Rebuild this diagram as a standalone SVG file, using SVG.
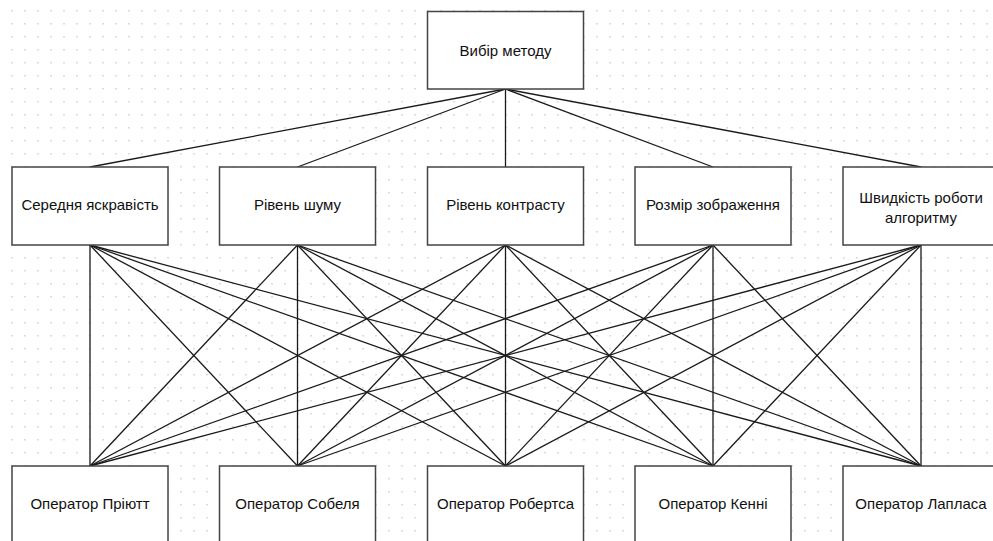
<svg xmlns="http://www.w3.org/2000/svg" width="993" height="541" viewBox="0 0 993 541">
<defs>
<pattern id="grid" x="11" y="10" width="13" height="13" patternUnits="userSpaceOnUse">
<rect x="0" y="0" width="2" height="1.5" fill="#dcdcdc"/>
</pattern>
<style>
.box{fill:#fff;stroke:#444;stroke-width:1.5}
.lbl{font-family:"Liberation Sans",Arial,sans-serif;font-size:15px;fill:#111;text-anchor:middle}
.ln{stroke:#1a1a1a;stroke-width:1.3;fill:none}
</style>
</defs>
<rect width="993" height="541" fill="#fff"/>
<rect width="993" height="541" fill="url(#grid)"/>
<g id="connectors">
<line class="ln" x1="505.5" y1="89" x2="90" y2="167"/>
<line class="ln" x1="505.5" y1="89" x2="297.5" y2="167"/>
<line class="ln" x1="505.5" y1="89" x2="505.5" y2="167"/>
<line class="ln" x1="505.5" y1="89" x2="713" y2="167"/>
<line class="ln" x1="505.5" y1="89" x2="921" y2="167"/>
<line class="ln" x1="90" y1="245" x2="90" y2="466"/>
<line class="ln" x1="90" y1="245" x2="297.5" y2="466"/>
<line class="ln" x1="90" y1="245" x2="505.5" y2="466"/>
<line class="ln" x1="90" y1="245" x2="713" y2="466"/>
<line class="ln" x1="90" y1="245" x2="921" y2="466"/>
<line class="ln" x1="297.5" y1="245" x2="90" y2="466"/>
<line class="ln" x1="297.5" y1="245" x2="297.5" y2="466"/>
<line class="ln" x1="297.5" y1="245" x2="505.5" y2="466"/>
<line class="ln" x1="297.5" y1="245" x2="713" y2="466"/>
<line class="ln" x1="297.5" y1="245" x2="921" y2="466"/>
<line class="ln" x1="505.5" y1="245" x2="90" y2="466"/>
<line class="ln" x1="505.5" y1="245" x2="297.5" y2="466"/>
<line class="ln" x1="505.5" y1="245" x2="505.5" y2="466"/>
<line class="ln" x1="505.5" y1="245" x2="713" y2="466"/>
<line class="ln" x1="505.5" y1="245" x2="921" y2="466"/>
<line class="ln" x1="713" y1="245" x2="90" y2="466"/>
<line class="ln" x1="713" y1="245" x2="297.5" y2="466"/>
<line class="ln" x1="713" y1="245" x2="505.5" y2="466"/>
<line class="ln" x1="713" y1="245" x2="713" y2="466"/>
<line class="ln" x1="713" y1="245" x2="921" y2="466"/>
<line class="ln" x1="921" y1="245" x2="90" y2="466"/>
<line class="ln" x1="921" y1="245" x2="297.5" y2="466"/>
<line class="ln" x1="921" y1="245" x2="505.5" y2="466"/>
<line class="ln" x1="921" y1="245" x2="713" y2="466"/>
<line class="ln" x1="921" y1="245" x2="921" y2="466"/>
</g>
<g id="n-top"><rect class="box" x="427.5" y="11.5" width="156" height="77.5"/><text class="lbl" x="505.5" y="56">Вибір методу</text></g>
<g id="n-c1"><rect class="box" x="12" y="167" width="156" height="78"/><text class="lbl" x="90" y="210">Середня яскравість</text></g>
<g id="n-c2"><rect class="box" x="219.5" y="167" width="156" height="78"/><text class="lbl" x="297.5" y="210">Рівень шуму</text></g>
<g id="n-c3"><rect class="box" x="427.5" y="167" width="156" height="78"/><text class="lbl" x="505.5" y="210">Рівень контрасту</text></g>
<g id="n-c4"><rect class="box" x="635" y="167" width="156" height="78"/><text class="lbl" x="713" y="210">Розмір зображення</text></g>
<g id="n-c5"><rect class="box" x="843" y="167" width="156" height="78"/><text class="lbl" x="921" y="203">Швидкість роботи</text><text class="lbl" x="921" y="223">алгоритму</text></g>
<g id="n-b1"><rect class="box" x="12" y="466" width="156" height="78"/><text class="lbl" x="90" y="509">Оператор Пріютт</text></g>
<g id="n-b2"><rect class="box" x="219.5" y="466" width="156" height="78"/><text class="lbl" x="297.5" y="509">Оператор Собеля</text></g>
<g id="n-b3"><rect class="box" x="427.5" y="466" width="156" height="78"/><text class="lbl" x="505.5" y="509">Оператор Робертса</text></g>
<g id="n-b4"><rect class="box" x="635" y="466" width="156" height="78"/><text class="lbl" x="713" y="509">Оператор Кенні</text></g>
<g id="n-b5"><rect class="box" x="843" y="466" width="156" height="78"/><text class="lbl" x="921" y="509">Оператор Лапласа</text></g>
</svg>
